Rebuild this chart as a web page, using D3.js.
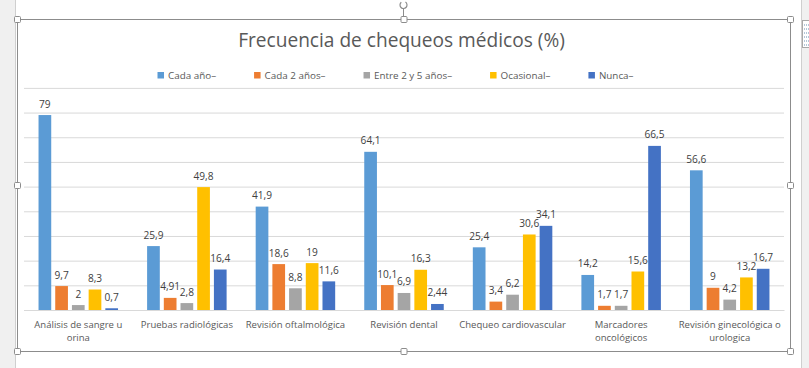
<!DOCTYPE html>
<html><head><meta charset="utf-8">
<script src="https://cdn.jsdelivr.net/npm/d3@7"></script>
<style>body{margin:0;background:#fff;} svg{display:block;}</style>
</head><body>
<svg id="c" width="809" height="368"></svg>
<script>
// ---------- data ----------
const chartTitle = "Frecuencia de chequeos médicos (%)";
const categories = [
  "Análisis de sangre u\norina",
  "Pruebas radiológicas",
  "Revisión oftalmológica",
  "Revisión dental",
  "Chequeo cardiovascular",
  "Marcadores\noncológicos",
  "Revisión ginecológica o\nurologica"
];
const seriesNames = ["Cada año–", "Cada 2 años–", "Entre 2 y 5 años–", "Ocasional–", "Nunca–"];
const seriesColors = ["#5B9BD5", "#ED7D31", "#A5A5A5", "#FFC000", "#4472C4"];
const cadaAno      = [79, 25.9, 41.9, 64.1, 25.4, 14.2, 56.6];
const cada2Anos    = [9.7, 4.91, 18.6, 10.1, 3.4, 1.7, 9];
const entre2y5     = [2, 2.8, 8.8, 6.9, 6.2, 1.7, 4.2];
const ocasional    = [8.3, 49.8, 19, 16.3, 30.6, 15.6, 13.2];
const nunca        = [0.7, 16.4, 11.6, 2.44, 34.1, 66.5, 16.7];
const yTicks       = [0, 10, 20, 30, 40, 50, 60, 70, 80, 90];

const seriesValues = [cadaAno, cada2Anos, entre2y5, ocasional, nunca];

// ---------- setup ----------
const FONT = "'Open Sans', sans-serif";
const svg = d3.select("#c");

function fitSize(str, target) {
  const t = svg.append("text").attr("font-family", FONT).attr("font-size", 20).text(str);
  const w = t.node().getComputedTextLength();
  t.remove();
  return 20 * target / w;
}
const titleSize = fitSize(chartTitle, 327);
const legendSize = fitSize("Cada 2 años–", 61);
const catSize = fitSize("Análisis de sangre u", 88);
const labelSize = fitSize("49,8", 20);

// page chrome
svg.append("rect").attr("x", 0).attr("y", 0).attr("width", 15).attr("height", 368).attr("fill", "#f0f0f0");
svg.append("line").attr("x1", 15.5).attr("x2", 15.5).attr("y1", 0).attr("y2", 368).attr("stroke", "#cfcfcf");
svg.append("rect").attr("x", 802).attr("y", 0).attr("width", 7).attr("height", 368).attr("fill", "#f0f0f0");
svg.append("line").attr("x1", 801.5).attr("x2", 801.5).attr("y1", 0).attr("y2", 368).attr("stroke", "#cfcfcf");
svg.append("rect").attr("x", 802.5).attr("y", 20.5).attr("width", 8).attr("height", 27)
  .attr("fill", "#fff").attr("stroke", "#a8a8a8");
for (let i = 0; i < 6; i++) {
  svg.append("line").attr("x1", 804).attr("x2", 809).attr("y1", 25 + i * 4).attr("y2", 25 + i * 4)
    .attr("stroke", "#6a8fb0").attr("stroke-dasharray", "1,1");
}

// chart frame
const frame = {x0: 17.5, y0: 19.5, x1: 790.5, y1: 351.5};
svg.append("rect").attr("x", frame.x0).attr("y", frame.y0)
  .attr("width", frame.x1 - frame.x0).attr("height", frame.y1 - frame.y0)
  .attr("fill", "#fff").attr("stroke", "#8c8c8c");

// rotation handle
svg.append("line").attr("x1", 403.5).attr("x2", 403.5).attr("y1", 9).attr("y2", 17).attr("stroke", "#8c8c8c");
svg.append("path").attr("d", d3.arc()({innerRadius: 3.5, outerRadius: 3.5, startAngle: 0.6, endAngle: 5.6}))
  .attr("transform", "translate(403.5,5)").attr("fill", "none").attr("stroke", "#8c8c8c").attr("stroke-width", 1.2);

// ---------- scales ----------
const plot = {left: 24, right: 784, top: 87.9, bottom: 310};
const y = d3.scaleLinear().domain([0, 90]).range([plot.bottom, plot.top]);
const x0 = d3.scaleBand().domain(categories).range([plot.left, plot.right]).paddingInner(0).paddingOuter(0);
const groupW = 79.5;
const x1 = d3.scaleBand().domain(seriesNames).range([0, groupW]).paddingInner(0.24).paddingOuter(0);
const groupOff = (x0.bandwidth() - groupW) / 2;

// gridlines
const grid = svg.append("g").attr("transform", `translate(${plot.left},0)`)
  .call(d3.axisLeft(y).tickValues(yTicks).tickSize(-(plot.right - plot.left)).tickFormat(""));
grid.select(".domain").remove();
grid.selectAll(".tick line").attr("stroke", "#d9d9d9");

// x axis
const xAxis = svg.append("g").attr("transform", `translate(0,${plot.bottom})`)
  .call(d3.axisBottom(x0).tickSize(0).tickSizeOuter(0));
xAxis.select(".domain").attr("stroke", "#d9d9d9");
xAxis.selectAll(".tick text").each(function(d) {
  const t = d3.select(this);
  t.text(null).attr("y", 0).attr("dy", null)
    .attr("font-family", FONT).attr("font-size", catSize).attr("fill", "#595959");
  d.split("\n").forEach((ln, i) => {
    t.append("tspan").attr("x", 0).attr("y", 17.7 + i * 13).text(ln);
  });
});

// bars
const groups = svg.append("g").selectAll("g").data(categories).join("g")
  .attr("transform", d => `translate(${x0(d) + groupOff},0)`);
groups.each(function(cat, ci) {
  const g = d3.select(this);
  seriesNames.forEach((s, si) => {
    const v = seriesValues[si][ci];
    g.append("rect").attr("x", x1(s)).attr("y", y(v))
      .attr("width", x1.bandwidth()).attr("height", y(0) - y(v))
      .attr("fill", seriesColors[si]);
  });
});
groups.each(function(cat, ci) {
  const g = d3.select(this);
  seriesNames.forEach((s, si) => {
    const v = seriesValues[si][ci];
    g.append("text").attr("x", x1(s) + x1.bandwidth() / 2).attr("y", y(v) - 7.5)
      .attr("text-anchor", "middle").attr("font-family", FONT).attr("font-size", labelSize)
      .attr("fill", "#404040").text(String(v).replace(".", ","));
  });
});

// title
svg.append("text").attr("x", 401.5).attr("y", 47.3).attr("text-anchor", "middle")
  .attr("font-family", FONT).attr("font-size", titleSize).attr("fill", "#595959").text(chartTitle);

// legend
let lx = 157.5;
seriesNames.forEach((s, i) => {
  const g = svg.append("g");
  g.append("rect").attr("x", lx).attr("y", 72).attr("width", 6.5).attr("height", 6.5).attr("fill", seriesColors[i]);
  const t = g.append("text").attr("x", lx + 10.5).attr("y", 79).attr("font-family", FONT)
    .attr("font-size", legendSize).attr("fill", "#595959").text(s);
  lx += 10.5 + t.node().getComputedTextLength() + 38;
});

// selection handles
const hx = [frame.x0, 404, frame.x1], hy = [frame.y0, 185.5, frame.y1];
hx.forEach((xx, i) => hy.forEach((yy, j) => {
  if (i === 1 && j === 1) return;
  svg.append("rect").attr("x", xx - 3).attr("y", yy - 3).attr("width", 6).attr("height", 6)
    .attr("rx", 1).attr("fill", "#fff").attr("stroke", "#8c8c8c");
}));
</script>
</body></html>
